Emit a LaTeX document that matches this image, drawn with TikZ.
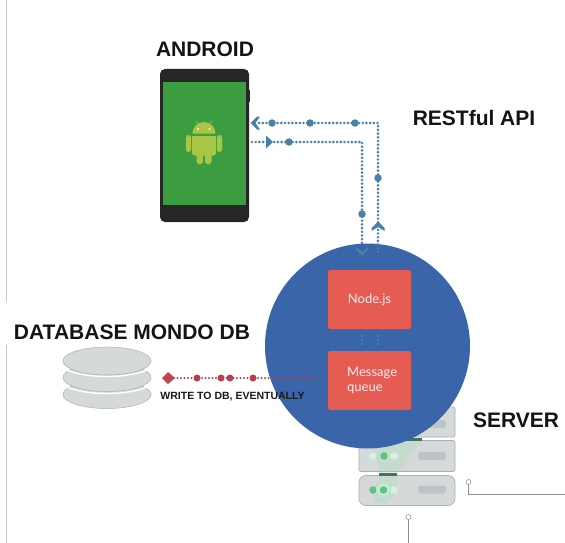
\documentclass[tikz,border=0pt]{standalone}
\usepackage{fontspec}
\setmainfont{Liberation Sans}
\newfontfamily\geofont{Lato}
\usetikzlibrary{arrows.meta,calc,shapes.geometric}
\definecolor{cblue}{HTML}{3A65A8}
\definecolor{cdot}{HTML}{4A7FA8}
\definecolor{cred}{HTML}{E55C52}
\definecolor{cdred}{HTML}{B8404A}
\definecolor{cgreen}{HTML}{3C9D40}
\definecolor{cdroid}{HTML}{A8C545}
\definecolor{crack}{HTML}{D5D9DA}
\definecolor{crackedge}{HTML}{A9AFB2}
\definecolor{cslot}{HTML}{BCC3C9}
\definecolor{cled}{HTML}{5FC47F}
\definecolor{cbar}{HTML}{4A6F60}
\tikzset{
  title/.style={font=\bfseries\fontsize{21}{23}\selectfont,text=black!92,inner sep=0pt},
  redbox/.style={fill=cred,rounded corners=2pt,minimum width=83pt,minimum height=59pt,inner sep=0pt},
  boxtext/.style={text=white!90!cred,font=\geofont\fontsize{13}{14.5}\selectfont,align=left,inner sep=0pt},
  dotline/.style={line width=2.9pt,line cap=round,dash pattern=on 0pt off 3.7pt,cdot},
  reddots/.style={line width=2.2pt,line cap=round,dash pattern=on 0pt off 3.5pt,cdred},
  blob/.style={circle,fill=cdot,minimum size=7.5pt,inner sep=0pt},
  redblob/.style={circle,fill=cdred,minimum size=7pt,inner sep=0pt},
  tip/.style={fill=cdot},
  platter/.style={fill=crack,draw=crackedge,line width=.5pt,ellipse,minimum width=88pt,minimum height=28pt,inner sep=0pt},
  rackrow/.style={fill=crack,draw=crackedge,line width=.7pt,rounded corners=2pt,minimum width=96pt,inner sep=0pt},
  slot/.style={fill=cslot,rounded corners=3pt,minimum width=28pt,minimum height=8pt,inner sep=0pt},
  led/.style={circle,fill=cled,minimum size=7.5pt,inner sep=0pt},
  ledw/.style={circle,fill=white!75!cled,minimum size=7.5pt,inner sep=0pt},
  wire/.style={draw=black!45,line width=.6pt},
  pin/.style={circle,draw=black!45,fill=white,line width=.5pt,minimum size=5pt,inner sep=0pt},
}
\begin{document}
\begin{tikzpicture}[x=1pt,y=-1pt]
\useasboundingbox (0,0) rectangle (565,543);
\fill[white] (0,0) rectangle (565,543);
% left margin rule
\coordinate (ra) at (6,0); \coordinate (rb) at (6,302);
\coordinate (rc) at (6,345); \coordinate (rd) at (6,543);
\draw[black!22,line width=.6pt] (ra)--(rb) (rc)--(rd);

% server
\node[rackrow,minimum height=30pt] (row1) at (407,422) {};
\node[rackrow,minimum height=31pt] (row2) at (407,456) {};
\fill[crack,draw=crackedge,line width=.7pt,rounded corners=7pt] (359,475.5) rectangle (455,505.5);
\node[inner sep=0pt,minimum width=96pt,minimum height=30pt] (row3) at (407,490) {};
\fill[cled!55,opacity=.35] (380,473) -- (398,473) -- (422,440) -- (372,440) -- cycle;
\fill[cled!55,opacity=.35] (372,490) -- (381,476) -- (397,476) -- (397,490) -- (388,503) -- (376,503) -- cycle;
\fill[cbar] (379,472.5) rectangle (397,475.5);
\fill[cbar] (405,437.5) rectangle (422,440.5);
\node[slot] (s1) at (432,424) {};
\node[slot] (s2) at (432,456) {};
\node[slot] (s3) at (432,489.5) {};
\node[ledw] (l1) at (373,456) {};
\node[led]  (l2) at (384,456) {};
\node[ledw] (l3) at (394,456) {};
\node[led]  (l4) at (373,490) {};
\node[ledw] (l5) at (394,490) {};
\node[circle,fill=white!60!cled,minimum size=15pt,inner sep=0pt] (l6o) at (383.5,490) {};
\node[led,draw=white,line width=.6pt,minimum size=9pt] (l6) at (383.5,490) {};
% wires
\node[pin] (p1) at (468.5,482) {};
\coordinate (w1) at (468.5,494.5);
\coordinate (w2) at (565,494.5);
\draw[wire] (p1)--(w1)--(w2);
\node[pin] (p2) at (408.5,517) {};
\coordinate (w3) at (408.5,543);
\draw[wire] (p2)--(w3);

% big circle
\node[circle,fill=cblue,minimum size=205pt,inner sep=0pt] (hub) at (367.5,346) {};
\node[redbox] (node) at (369.5,299.5) {};
\node[boxtext] at (node.center) {Node.js};
\node[redbox] (queue) at (369.5,380.5) {};
\node[boxtext,anchor=west] at (347,380.5) {Message\\queue};
% small dots between boxes
\draw[line width=1.6pt,line cap=round,dash pattern=on 0pt off 4pt,cdot!70!cyan]
  (362,336) coordinate (d1) -- ++(0,11);
\draw[line width=1.6pt,line cap=round,dash pattern=on 0pt off 4pt,cdot!70!cyan]
  (378,336) coordinate (d2) -- ++(0,11);

% phone
\node[fill=black!85,rounded corners=5pt,minimum width=89pt,minimum height=153pt,inner sep=0pt] (phone) at (204.5,145.5) {};
\fill[black!85] (248,90) rectangle (250,102);
\node[fill=cgreen,minimum width=83pt,minimum height=123pt,inner sep=0pt] (screen) at (204.5,143.5) {};
% android logo
\begin{scope}[shift={(204,139)}]
  \fill[cdroid] (-11.5,-5.5) arc[start angle=180,end angle=360,radius=11.5] -- cycle;
  \fill[cdroid,rounded corners=2.5pt] (-12,-3) rectangle (12,16.5);
  \fill[cdroid] (-12,-3) rectangle (12,6);
  \fill[cdroid,rounded corners=2.5pt] (-18,-4) rectangle (-13,13);
  \fill[cdroid,rounded corners=2.5pt] (13,-4) rectangle (18,13);
  \fill[cdroid,rounded corners=2.5pt] (-7.5,12) rectangle (-1,25);
  \fill[cdroid,rounded corners=2.5pt] (1,12) rectangle (7.5,25);
  \draw[cdroid,line width=.7pt] (-8,-18) -- (-5.5,-15) (8,-18) -- (5.5,-15);
  \fill[white!80!cdroid] (-6,-10) circle (1.1pt) (5.5,-10) circle (1.1pt);
\end{scope}

% REST connectors
\coordinate (upS) at (378,252);
\coordinate (upC) at (378,123);
\coordinate (upE) at (256,123);
\coordinate (dnS) at (252,142);
\coordinate (dnC) at (362,142);
\coordinate (dnE) at (362,246);
\draw[dotline] (upS)--(upC)--(upE);
\draw[dotline] (dnS)--(dnC)--(dnE);
\foreach \n/\x/\y in {a/272/123,b/310/123,c/355/123,d/378/178,e/289/142,f/362/214}
  \node[blob] (\n) at (\x,\y) {};
\fill[tip] (250.5,123) -- (257,116.5) -- (260,116.5) -- (255.5,123) -- (260,129.5) -- (257,129.5) -- cycle;
\fill[tip] (273,142) -- (266,135.5) -- (266,148.5) -- cycle;
\fill[tip] (378,221.5) -- (384.5,228) -- (384.5,231) -- (378,227) -- (371.5,231) -- (371.5,228) -- cycle;
\fill[tip] (362,256) -- (356,249.5) -- (356,247) -- (362,252) -- (368,247) -- (368,249.5) -- cycle;

% database
\node[platter] (db3) at (107,394.5) {};
\draw[white,line width=1.4pt] (64,386) .. controls (85,396) and (129,396) .. (150,386);
\node[platter] (db2) at (107,377.5) {};
\draw[white,line width=1.4pt] (64,369) .. controls (85,379) and (129,379) .. (150,369);
\node[platter] (db1) at (107,361) {};

% write connector
\coordinate (qS) at (314,378);
\coordinate (qE) at (170,378);
\draw[reddots] (qS)--(qE);
\foreach \n/\x in {ra1/197,ra2/221,ra3/230,ra4/253}
  \node[redblob] (\n) at (\x,378) {};
\fill[cdred!80!cred] (162,378) -- (168,372) -- (175,378) -- (168,384) -- cycle;

% labels
\node[title] (t1) at (205,49) {ANDROID};
\node[title] (t2) at (474,118) {RESTful API};
\node[title] (t3) at (132,332) {DATABASE MONDO DB};
\node[title] (t4) at (516,420) {SERVER};
\node[inner sep=0pt,text=black!90,font=\bfseries\fontsize{10.5}{12}\selectfont] (t5) at (232.5,397) {WRITE TO DB, EVENTUALLY};
\end{tikzpicture}
\end{document}
